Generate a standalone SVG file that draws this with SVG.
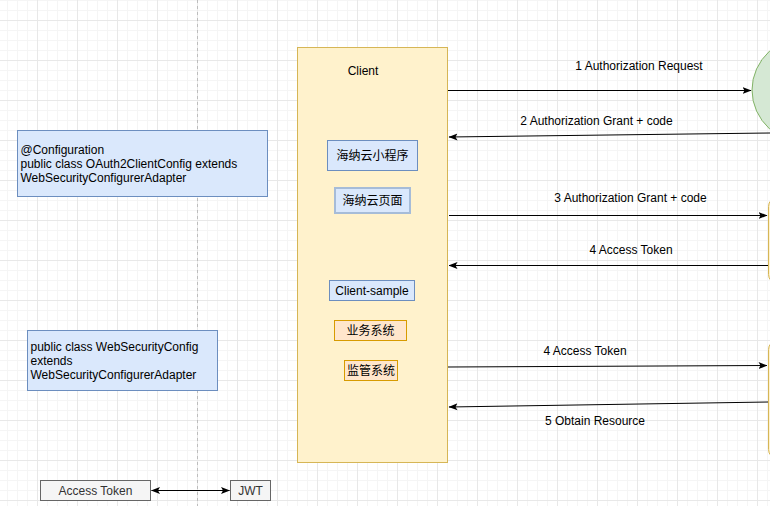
<svg xmlns="http://www.w3.org/2000/svg" width="770" height="506" viewBox="0 0 770 506">
<defs>
<pattern id="grid" patternUnits="userSpaceOnUse" x="37" y="20" width="40" height="40">
<path d="M10.5,0V40M20.5,0V40M30.5,0V40M0,10.5H40M0,20.5H40M0,30.5H40" stroke="#f5f5f5" stroke-width="1" fill="none"/>
<path d="M0.5,0V40M0,0.5H40" stroke="#e8e8e8" stroke-width="1" fill="none"/>
</pattern>
<marker id="arr" markerUnits="userSpaceOnUse" viewBox="0 0 9 8" markerWidth="9" markerHeight="8" refX="8.5" refY="4" orient="auto-start-reverse">
<path d="M0,0.5 L9,4 L0,7.5 L2,4 z" fill="#000"/>
</marker>
</defs>
<style>
text{font-family:"Liberation Sans",Arial,"Noto Sans CJK SC",sans-serif;font-size:12px;fill:#000}
.c{text-anchor:middle}
.blue{fill:#dae8fc;stroke:#6c8ebf;stroke-width:1}
.orange{fill:#ffe6cc;stroke:#d79b00;stroke-width:1}
.yellow{fill:#fff2cc;stroke:#d6b656;stroke-width:1}
.grey{fill:#f5f5f5;stroke:#666666;stroke-width:1}
.ln{stroke:#000;stroke-width:1;fill:none;marker-end:url(#arr)}
</style>
<rect width="770" height="506" fill="#ffffff"/>
<rect width="770" height="506" fill="url(#grid)"/>
<line x1="197.5" y1="0" x2="197.5" y2="506" stroke="#bdbdbd" stroke-width="1" stroke-dasharray="3 3"/>

<g id="client">
<rect class="yellow" x="297.5" y="47.5" width="150" height="415"/>
<text class="c" x="363" y="75">Client</text>
</g>
<g id="hainayun-miniprogram">
<rect class="blue" x="327.5" y="140.5" width="90" height="30"/>
<text class="c" x="372.5" y="159.5">海纳云小程序</text>
</g>
<g id="hainayun-page">
<rect x="335" y="188" width="75" height="25" fill="#dae8fc" stroke="#a6bcd8" stroke-width="2"/>
<text class="c" x="372.5" y="205">海纳云页面</text>
</g>
<g id="client-sample">
<rect class="blue" x="329.5" y="280.5" width="85" height="20"/>
<text class="c" x="372" y="294.5">Client-sample</text>
</g>
<g id="business-system">
<rect class="orange" x="334.5" y="320.5" width="72" height="20"/>
<text class="c" x="370.5" y="335">业务系统</text>
</g>
<g id="supervision-system">
<rect class="orange" x="344.5" y="360.5" width="53" height="20"/>
<text class="c" x="371" y="375">监管系统</text>
</g>
<g id="auth-server">
<ellipse cx="812" cy="90" rx="60" ry="55" fill="#d5e8d4" stroke="#82b366" stroke-width="1"/>
</g>
<g id="token-server">
<rect class="yellow" x="768.5" y="197.5" width="100" height="86" rx="9"/>
</g>
<g id="resource-server">
<rect class="yellow" x="768.5" y="340.5" width="100" height="118" rx="9"/>
</g>
<g id="oauth2-config">
<rect class="blue" x="17.5" y="130.5" width="250" height="66"/>
<text x="20.5" y="154">@Configuration</text>
<text x="20.5" y="168">public class OAuth2ClientConfig extends</text>
<text x="20.5" y="182">WebSecurityConfigurerAdapter</text>
</g>
<g id="websecurity-config">
<rect class="blue" x="27.5" y="330.5" width="190" height="60"/>
<text x="30.5" y="351">public class WebSecurityConfig</text>
<text x="30.5" y="365">extends</text>
<text x="30.5" y="379">WebSecurityConfigurerAdapter</text>
</g>
<g id="access-token">
<rect class="grey" x="40.5" y="480.5" width="110" height="20"/>
<text class="c" x="95.5" y="495" style="fill:#333">Access Token</text>
</g>
<g id="jwt">
<rect class="grey" x="230.5" y="480.5" width="40" height="20"/>
<text class="c" x="250.5" y="495" style="fill:#333">JWT</text>
</g>

<g id="connectors">
<path class="ln" d="M448,90.5 L751,90.5"/>
<text class="c" x="639" y="70">1 Authorization Request</text>
<path class="ln" d="M770,133 L449,137"/>
<text class="c" x="596.5" y="125">2 Authorization Grant + code</text>
<path class="ln" d="M449,215.5 L767,215.5"/>
<text class="c" x="630.5" y="202">3 Authorization Grant + code</text>
<path class="ln" d="M768,265.5 L449,265.5"/>
<text class="c" x="631" y="254">4 Access Token</text>
<path class="ln" d="M448,367 L767,365.5"/>
<text class="c" x="585" y="355">4 Access Token</text>
<path class="ln" d="M768,402 L449,407"/>
<text class="c" x="595" y="425">5 Obtain Resource</text>
<path class="ln" style="marker-start:url(#arr)" d="M151.5,490.5 L229.5,490.5"/>
</g>
</svg>
